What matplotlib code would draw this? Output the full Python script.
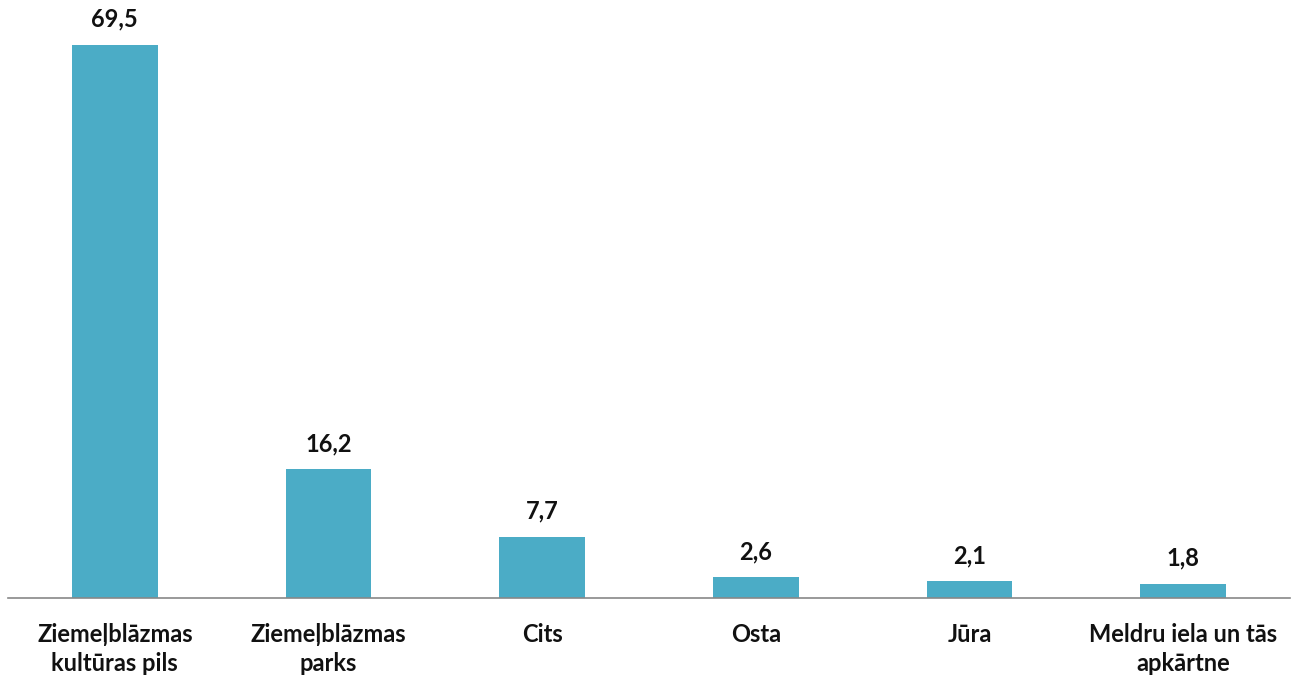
import numpy as np
import matplotlib.pyplot as plt

categories = ["Ziemeļblāzmas\nkultūras pils", "Ziemeļblāzmas\nparks", "Cits",
              "Osta", "Jūra", "Meldru iela un tās\napkārtne"]
values = [69.5, 16.2, 7.7, 2.6, 2.1, 1.8]

plt.rcParams['font.family'] = ['Lato', 'DejaVu Sans']

fig = plt.figure(figsize=(12.97, 6.77), dpi=100)
ax = fig.add_axes([8/1297, 79/677, 1282/1297, 598/677])

x = np.arange(len(categories))
bars = ax.bar(x, values, width=0.40, color='#4BACC6')

for xi, v in zip(x, values):
    ax.annotate(f"{v:.1f}".replace('.', ','), (xi, v), xytext=(0, 10),
                textcoords='offset points', ha='center', va='bottom',
                fontsize=17, fontweight='bold', color='#111111')

ax.set_xlim(-0.5, len(categories) - 0.5)
ax.set_ylim(0, 75.1)
ax.set_yticks([])
ax.set_xticks(x)
ax.set_xticklabels(categories, fontsize=17, fontweight='bold', color='#111111',
                   linespacing=1.3)
ax.tick_params(axis='x', length=0, pad=18)
for s in ['top', 'right', 'left']:
    ax.spines[s].set_visible(False)
ax.spines['bottom'].set_color('#888888')
ax.spines['bottom'].set_linewidth(1.2)

fig.savefig('out.png', dpi=100)
